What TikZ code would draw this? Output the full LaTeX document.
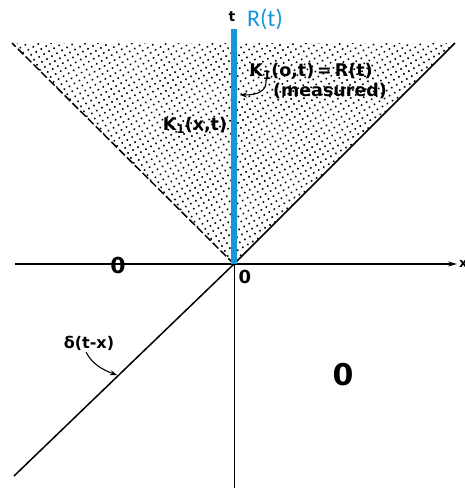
\documentclass[tikz,border=0pt]{standalone}
\usepackage{fontspec}
\setmainfont{DejaVu Sans}
\newfontfamily\rfont{Carlito}
\usetikzlibrary{patterns.meta,arrows.meta}
\definecolor{rblue}{RGB}{20,150,215}
\begin{document}
\begin{tikzpicture}[x=1pt,y=-1pt,
  lbl/.style={inner sep=0pt,font=\bfseries},
  axisline/.style={line width=1.1pt},
  pointer/.style={line width=1.1pt,-{Stealth[length=7pt,width=5pt]}}]
\useasboundingbox (0,0) rectangle (465,488);
\coordinate (O) at (234,264);
\coordinate (TL) at (12,43);
\coordinate (TR) at (455,43);
\coordinate (Ttop) at (234,29);
\coordinate (Xl) at (15,264);
\coordinate (Xr) at (457,264);
\coordinate (Bot) at (234,488);
\coordinate (DL) at (14,476);
% shaded cone
\fill[pattern={Dots[distance=5.8pt,radius=1.1pt,angle=30]},pattern color=black] (O) -- (TL) -- (TR) -- cycle;
\draw[line width=1.5pt] (O) -- (TR);
\draw[line width=1.5pt,dash pattern=on 8pt off 3pt] (O) -- (TL);
% axes
\draw[axisline,-{Stealth[length=9pt,width=5pt]}] (Xl) -- (Xr);
\node[lbl,font=\fontsize{13}{13}\selectfont\bfseries,anchor=west] (xl) at (459,264) {x};
\draw[line width=1pt] (O) -- (Bot);
\draw[line width=1.5pt] (O) -- (DL);
\draw[rblue,line width=5.5pt] (O) -- (Ttop);
% labels
\node[lbl,font=\fontsize{14}{14}\selectfont\bfseries] (tl) at (232,17) {t};
\node[inner sep=0pt,text=rblue,font=\fontsize{24}{24}\selectfont\rfont] (rt) at (265,19) {R(t)};
\node[lbl,font=\fontsize{22}{22}\selectfont\bfseries] (z1) at (118,265) {0};
\node[lbl,font=\fontsize{18}{18}\selectfont\bfseries] (z2) at (245,277) {0};
\node[lbl,font=\fontsize{30}{30}\selectfont\bfseries] (z3) at (343,375) {0};
\node[lbl,font=\fontsize{17.5}{17.5}\selectfont\bfseries] (k1) at (195,125) {K\raisebox{-0.3ex}{\fontsize{12}{12}\selectfont 1}(x,t)};
\node[lbl,font=\fontsize{17.5}{17.5}\selectfont\bfseries] (k0) at (311,71) {K\raisebox{-0.3ex}{\fontsize{12}{12}\selectfont 1}(o,t)\,=\,R(t)};
\node[lbl,font=\fontsize{17.5}{17.5}\selectfont\bfseries] (meas) at (330,91) {(measured)};
\coordinate (a1s) at (266,80);
\coordinate (a1e) at (240,95);
\draw[pointer] (a1s) .. controls (267,91) and (258,95) .. (a1e);
\node[lbl,font=\fontsize{16}{16}\selectfont\bfseries] (delta) at (89,343) {δ(t-x)};
\coordinate (a2s) at (86,352);
\coordinate (a2e) at (117,375);
\draw[pointer] (a2s) .. controls (92,364) and (103,370) .. (a2e);
\end{tikzpicture}
\end{document}
